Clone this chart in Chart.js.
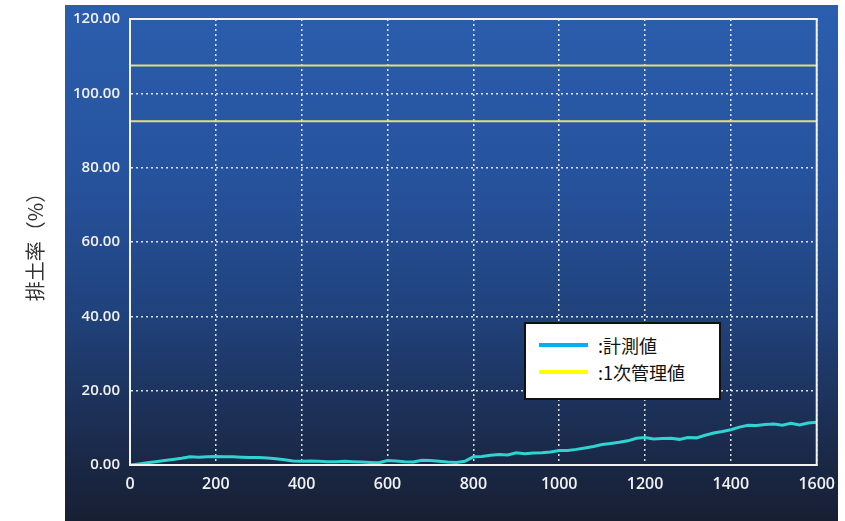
<!DOCTYPE html>
<html>
<head>
<meta charset="utf-8">
<script src="https://cdn.jsdelivr.net/npm/chart.js@4/dist/chart.umd.min.js"></script>
<style>
  html, body { margin: 0; padding: 0; background: #ffffff; }
  #wrap { position: relative; width: 845px; height: 521px; }
  #legend {
    position: absolute; left: 524px; top: 322px; width: 193px; height: 74px;
    background: #ffffff; border: 2px solid #111;
    font-family: "Noto Sans CJK JP", sans-serif; font-size: 18px; color: #111;
  }
  .row { position: absolute; left: 0; height: 24px; display: flex; align-items: center; }
  .sw { width: 49px; height: 4px; margin-left: 13px; margin-right: 10px; }
</style>
</head>
<body>
<div id="wrap">
  <canvas id="c" width="845" height="521"></canvas>
  <div id="legend">
    <div class="row" style="top:9px"><span class="sw" style="background:#00b0f0"></span><span>:計測値</span></div>
    <div class="row" style="top:36px"><span class="sw" style="background:#ffff00"></span><span>:1次管理値</span></div>
  </div>
</div>
<script>
// ---- data ----
const distance = [0,20,40,60,80,100,120,140,160,180,200,220,240,260,280,300,320,340,360,380,
  400,420,440,460,480,500,520,540,560,580,600,620,640,660,680,700,720,740,760,780,
  800,820,840,860,880,900,920,940,960,980,1000,1020,1040,1060,1080,1100,1120,1140,1160,1180,
  1200,1220,1240,1260,1280,1300,1320,1340,1360,1380,1400,1420,1440,1460,1480,1500,1520,1540,1560,1580,1600];
const measured = [0,0.3,0.6,0.9,1.2,1.5,1.8,2.2,2.1,2.2,2.3,2.2,2.2,2.1,2.0,2.0,1.9,1.7,1.4,1.1,
  1.0,1.1,1.0,0.9,0.9,1.0,0.9,0.8,0.7,0.6,1.2,1.1,0.9,0.8,1.3,1.2,1.0,0.8,0.7,1.0,
  2.2,2.3,2.6,2.8,2.7,3.3,3.0,3.2,3.3,3.5,3.9,3.9,4.2,4.6,5.0,5.5,5.8,6.1,6.5,7.2,
  7.4,7.0,7.1,7.2,6.9,7.4,7.3,8.0,8.6,9.0,9.5,10.2,10.7,10.6,10.9,11.0,10.7,11.2,10.8,11.3,11.5];
const limitX = [0, 1600];
const upperLimit = [107.5, 107.5];
const lowerLimit = [92.5, 92.5];
const yTicksMax = 120, yStep = 20, xMax = 1600, xStep = 200;

const toPts = (xs, ys) => xs.map((x, i) => ({x: x, y: ys[i]}));

const panelPlugin = {
  id: 'panel',
  beforeDraw(chart) {
    const ctx = chart.ctx;
    const g = ctx.createLinearGradient(0, 5, 0, 521);
    g.addColorStop(0, '#2b5eae');
    g.addColorStop(0.35, '#26529c');
    g.addColorStop(0.6, '#20427c');
    g.addColorStop(0.85, '#1b2b4c');
    g.addColorStop(1, '#171f33');
    ctx.save();
    ctx.fillStyle = g;
    ctx.fillRect(65, 5, 773, 516);
    ctx.restore();
  },
  afterDraw(chart) {
    const a = chart.chartArea, ctx = chart.ctx;
    ctx.save();
    ctx.strokeStyle = '#f2f2f2';
    ctx.lineWidth = 2;
    ctx.strokeRect(a.left, a.top, a.right - a.left, a.bottom - a.top);
    ctx.restore();
  }
};

const tickFont = { family: '"Open Sans", sans-serif', size: 15, weight: '600' };

new Chart(document.getElementById('c'), {
  type: 'line',
  data: {
    datasets: [
      { label: '1次管理値上限', data: toPts(limitX, upperLimit), borderColor: '#e2e07a', borderWidth: 2, pointRadius: 0 },
      { label: '1次管理値下限', data: toPts(limitX, lowerLimit), borderColor: '#e2e07a', borderWidth: 2, pointRadius: 0 },
      { label: '計測値', data: toPts(distance, measured), borderColor: '#2fd3cf', borderWidth: 3, pointRadius: 0, tension: 0 }
    ]
  },
  options: {
    responsive: false,
    animation: false,
    layout: { padding: { left: 23, right: 16, top: 14, bottom: 12 } },
    plugins: { legend: { display: false }, tooltip: { enabled: false } },
    scales: {
      x: {
        type: 'linear', min: 0, max: xMax,
        ticks: { stepSize: xStep, color: '#f2f2f2', font: { ...tickFont, size: 16 }, padding: 10, maxRotation: 0,
                 callback: v => String(v) },
        grid: { color: 'rgba(255,255,255,0.85)', lineWidth: 1.5, drawTicks: false },
        border: { display: true, color: '#f2f2f2', width: 2, dash: [2, 3] },
        afterFit(s) { s.height = 44; }
      },
      y: {
        min: 0, max: yTicksMax,
        ticks: { stepSize: yStep, color: '#f2f2f2', font: tickFont, padding: 10,
                 callback: v => Number(v).toFixed(2) },
        grid: { color: 'rgba(255,255,255,0.85)', lineWidth: 1.5, drawTicks: false },
        border: { display: true, color: '#f2f2f2', width: 2, dash: [2, 3] },
        title: { display: true, text: '排土率（%）', color: '#333',
                 font: { family: '"Noto Sans CJK JP", sans-serif', size: 20 },
                 padding: { top: 0, bottom: 20 } },
        afterFit(s) { s.width = 107; }
      }
    }
  },
  plugins: [panelPlugin]
});
</script>
</body>
</html>
